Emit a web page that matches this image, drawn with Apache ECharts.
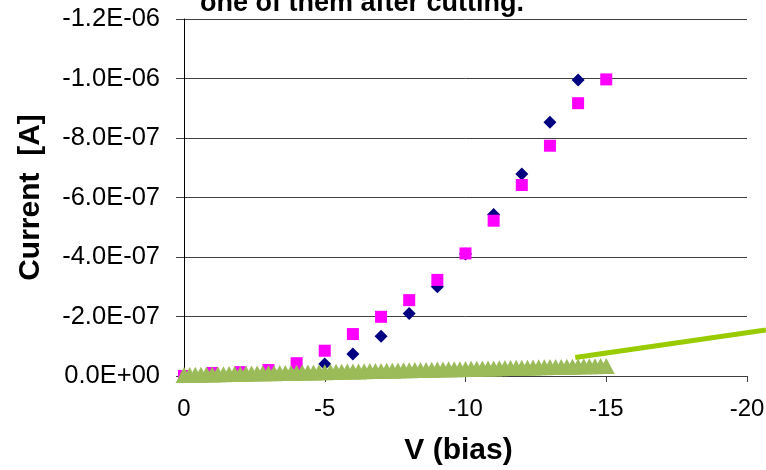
<!DOCTYPE html>
<html>
<head>
<meta charset="utf-8">
<script src="https://cdn.jsdelivr.net/npm/echarts@6/dist/echarts.min.js"></script>
<style>
html,body{margin:0;padding:0;background:#fff;}
#chart{width:766px;height:470px;}
</style>
</head>
<body>
<div id="chart"></div>
<script>
// ---- data (V bias, current in A) ----
var diamondV = [0, -1, -2, -3, -4, -5, -6, -7, -8, -9, -10, -11, -12, -13, -14];
var diamondI = [0, -0.2e-8, -0.3e-8, -0.5e-8, -1.0e-8, -4.0e-8, -7.4e-8, -1.34e-7, -2.1e-7, -3.0e-7, -4.1e-7, -5.43e-7, -6.79e-7, -8.53e-7, -9.95e-7];

var squareV = [0, -1, -2, -3, -4, -5, -6, -7, -8, -9, -10, -11, -12, -13, -14, -15];
var squareI = [0, -1.0e-8, -1.3e-8, -2.0e-8, -4.3e-8, -8.5e-8, -1.41e-7, -1.99e-7, -2.55e-7, -3.23e-7, -4.12e-7, -5.22e-7, -6.42e-7, -7.74e-7, -9.17e-7, -9.97e-7];

var triV = [0, -0.2, -0.4, -0.6, -0.8, -1.0, -1.2, -1.4, -1.6, -1.8, -2.0, -2.2, -2.4, -2.6, -2.8, -3.0, -3.2, -3.4, -3.6, -3.8,
            -4.0, -4.2, -4.4, -4.6, -4.8, -5.0, -5.2, -5.4, -5.6, -5.8, -6.0, -6.2, -6.4, -6.6, -6.8, -7.0, -7.2, -7.4, -7.6, -7.8,
            -8.0, -8.2, -8.4, -8.6, -8.8, -9.0, -9.2, -9.4, -9.6, -9.8, -10.0, -10.2, -10.4, -10.6, -10.8, -11.0, -11.2, -11.4, -11.6, -11.8,
            -12.0, -12.2, -12.4, -12.6, -12.8, -13.0, -13.2, -13.4, -13.6, -13.8, -14.0, -14.2, -14.4, -14.6, -14.8, -15.0];
var triI = [-0.30e-8, -0.35e-8, -0.40e-8, -0.45e-8, -0.50e-8, -0.50e-8, -0.55e-8, -0.60e-8, -0.65e-8, -0.70e-8, -0.70e-8, -0.75e-8, -0.80e-8, -0.85e-8, -0.90e-8, -0.90e-8, -0.95e-8, -1.00e-8, -1.00e-8, -1.05e-8,
            -1.10e-8, -1.15e-8, -1.20e-8, -1.20e-8, -1.25e-8, -1.30e-8, -1.35e-8, -1.40e-8, -1.45e-8, -1.50e-8, -1.50e-8, -1.55e-8, -1.60e-8, -1.65e-8, -1.70e-8, -1.70e-8, -1.75e-8, -1.80e-8, -1.85e-8, -1.90e-8,
            -1.95e-8, -2.00e-8, -2.00e-8, -2.05e-8, -2.10e-8, -2.15e-8, -2.20e-8, -2.25e-8, -2.30e-8, -2.30e-8, -2.35e-8, -2.40e-8, -2.45e-8, -2.50e-8, -2.50e-8, -2.55e-8, -2.60e-8, -2.65e-8, -2.70e-8, -2.75e-8,
            -2.80e-8, -2.80e-8, -2.85e-8, -2.90e-8, -2.95e-8, -3.00e-8, -3.00e-8, -3.05e-8, -3.10e-8, -3.15e-8, -3.20e-8, -3.25e-8, -3.30e-8, -3.30e-8, -3.35e-8, -3.40e-8];

var fitV = [-13.9, -20.67];
var fitI = [-6.2e-8, -1.55e-7];

var xTicks = {min: -20, max: 0, interval: 5};
var yTicks = {min: -1.2e-6, max: 0, interval: 2e-7};
var titleText = 'one of them after cutting.';

function pairs(xs, ys) { return xs.map(function (x, i) { return [x, ys[i]]; }); }

function sci(v) {
  if (Math.abs(v) < 1e-15) return '0.0E+00';
  var s = v.toExponential(1);
  var parts = s.split('e');
  var e = parseInt(parts[1], 10);
  var es = (e < 0 ? '-' : '+') + (Math.abs(e) < 10 ? '0' : '') + Math.abs(e);
  return parts[0] + 'E' + es;
}

var FONT = '"Liberation Sans", Arial, sans-serif';
var GL = 184, GR = 19, GT = 19, GB = 94, W = 766;
var plotW = W - GL - GR;
// second (hidden) grid extends to the right edge of the picture with the same scale
var extMax = xTicks.min * (W - GL) / plotW;

var chart = echarts.init(document.getElementById('chart'), null, {renderer: 'canvas'});
chart.setOption({
  animation: false,
  backgroundColor: '#ffffff',
  textStyle: {fontFamily: FONT},
  grid: [
    {left: GL, right: GR, top: GT, bottom: GB, containLabel: false, outerBoundsMode: 'none'},
    {left: GL, right: 0, top: GT, bottom: GB, containLabel: false, outerBoundsMode: 'none'}
  ],
  graphic: [{
    type: 'text', left: 200, top: -10,
    style: {text: titleText, font: 'bold 27px ' + FONT, fill: '#000'}
  }],
  xAxis: [{
    type: 'value', inverse: true, gridIndex: 0,
    min: xTicks.min, max: xTicks.max, interval: xTicks.interval,
    name: 'V (bias)', nameLocation: 'middle', nameGap: 60,
    nameTextStyle: {fontSize: 30, fontWeight: 'bold', color: '#000', fontFamily: FONT, padding: [0, 14, 0, 0]},
    axisLine: {onZero: false, lineStyle: {color: '#404040', width: 1}},
    axisTick: {show: true, length: 6, lineStyle: {color: '#404040'}},
    axisLabel: {fontSize: 24, color: '#000', margin: 21, fontFamily: FONT,
      formatter: function (v) { return v === 0 ? '0' : String(v); }},
    splitLine: {show: false}
  }, {
    type: 'value', inverse: true, gridIndex: 1, show: false,
    min: extMax, max: 0
  }],
  yAxis: [{
    type: 'value', inverse: true, gridIndex: 0,
    min: yTicks.min, max: yTicks.max, interval: yTicks.interval,
    name: 'Current  [A]', nameLocation: 'middle', nameGap: 138,
    nameTextStyle: {fontSize: 30, fontWeight: 'bold', color: '#000', fontFamily: FONT},
    axisLine: {show: true, onZero: false, lineStyle: {color: '#000', width: 1}},
    axisTick: {show: true, length: 8, lineStyle: {color: '#404040'}},
    axisLabel: {fontSize: 25.5, color: '#000', margin: 24, fontFamily: FONT, formatter: sci},
    splitLine: {show: true, lineStyle: {color: '#404040', width: 1}}
  }, {
    type: 'value', inverse: true, gridIndex: 1, show: false,
    min: yTicks.min, max: yTicks.max
  }],
  series: [
    {type: 'scatter', name: 'd', data: pairs(diamondV, diamondI), symbol: 'diamond', symbolSize: [13, 13],
     itemStyle: {color: '#000080', opacity: 1}, z: 2},
    {type: 'scatter', name: 's', data: pairs(squareV, squareI), symbol: 'rect', symbolSize: [12, 12],
     itemStyle: {color: '#FF00FF', opacity: 1}, z: 3},
    {type: 'scatter', name: 't', data: pairs(triV, triI), symbol: 'triangle', symbolSize: [17, 16],
     itemStyle: {color: '#9BBB59', opacity: 1}, z: 4},
    {type: 'line', name: 'fit', xAxisIndex: 1, yAxisIndex: 1, data: pairs(fitV, fitI), symbol: 'none', clip: false,
     lineStyle: {color: '#99CC00', width: 5, cap: 'butt'}, z: 5}
  ]
});
</script>
</body>
</html>
